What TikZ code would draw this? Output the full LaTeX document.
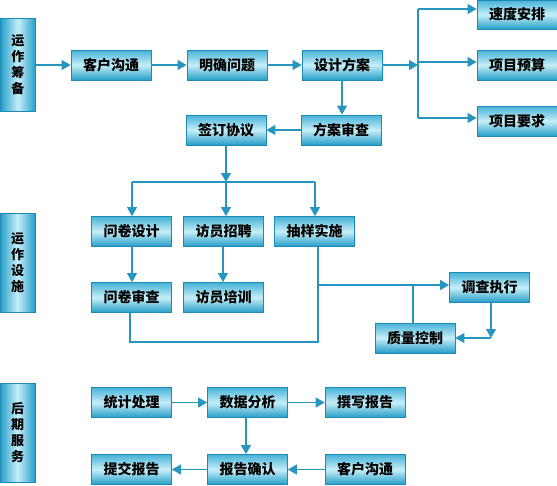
\documentclass[tikz,border=0pt]{standalone}
\usepackage{fontspec}
\usepackage{xcolor}
\usetikzlibrary{calc,arrows.meta}
\newfontfamily\cjk{Noto Sans CJK SC}
\definecolor{flowLine}{RGB}{38,150,190}
\definecolor{boxEdge}{RGB}{28,138,180}
\definecolor{boxDark}{RGB}{36,158,200}
\definecolor{boxTop}{RGB}{70,178,215}
\definecolor{boxLight}{RGB}{198,238,248}
\tikzset{
  stepbox/.style={draw=boxEdge,line width=0.8pt,top color=boxTop,bottom color=boxDark,middle color=boxLight,
    minimum width=80pt,minimum height=30pt,inner sep=0pt,font=\cjk\bfseries\fontsize{14}{16}\selectfont},
  stagebox/.style={draw=boxEdge,line width=0.8pt,left color=boxDark,right color=boxDark,middle color=boxLight,
    minimum width=35pt,inner sep=0pt,align=center,font=\cjk\bfseries\fontsize{13}{16}\selectfont},
  link/.style={draw=flowLine,line width=1.1pt},
  arr/.style={link,-{Triangle[length=9pt,width=10pt]}}
}
\begin{document}
\begin{tikzpicture}[x=1pt,y=-1pt]
\useasboundingbox (0,0) rectangle (557,485);
% stages
\node[stagebox,minimum height=93pt] (prep) at (18,64.5) {运\\作\\筹\\备};
\node[stagebox,minimum height=99pt] (impl) at (17.5,262.5) {运\\作\\设\\施};
\node[stagebox,minimum height=99pt] (post) at (17.5,432.5) {后\\期\\服\\务};
% preparation
\node[stepbox] (talkA) at (111,65) {客户沟通};
\node[stepbox] (issue) at (227,65) {明确问题};
\node[stepbox] (plan) at (342,65) {设计方案};
\node[stepbox,minimum height=29pt] (speed) at (517,14.5) {速度安排};
\node[stepbox] (budget) at (517,65) {项目预算};
\node[stepbox] (needs) at (517,121) {项目要求};
\node[stepbox] (review) at (341,130) {方案审查};
\node[stepbox] (sign) at (226,130) {签订协议};
% implementation
\node[stepbox] (qdesign) at (131.5,231.5) {问卷设计};
\node[stepbox] (hire) at (223.5,231.5) {访员招聘};
\node[stepbox] (sample) at (314.5,231.5) {抽样实施};
\node[stepbox] (qcheck) at (131.5,297.5) {问卷审查};
\node[stepbox] (train) at (223.5,297.5) {访员培训};
\node[stepbox] (survey) at (489.5,287.5) {调查执行};
\node[stepbox] (quality) at (415,338) {质量控制};
% after service
\node[stepbox] (stats) at (131.5,402.5) {统计处理};
\node[stepbox] (analyse) at (247.5,402.5) {数据分析};
\node[stepbox] (write) at (365,402.5) {撰写报告};
\node[stepbox] (submit) at (131.5,469.5) {提交报告};
\node[stepbox] (confirm) at (247.5,469.5) {报告确认};
\node[stepbox] (talkB) at (365,469.5) {客户沟通};
% connectors, first stage
\draw[arr] (prep.east |- talkA) -- (talkA);
\draw[arr] (talkA) -- (issue);
\draw[arr] (issue) -- (plan);
\coordinate (busT) at (418,9);
\coordinate (busM) at (418,62);
\coordinate (busB) at (418,118);
\draw[arr] (plan.east) -- (plan.east -| busT);
\draw[link] (busT) -- (busB);
\draw[arr] (busT) -- (busT -| speed.west);
\draw[arr] (busM) -- (busM -| budget.west);
\draw[arr] (busB) -- (busB -| needs.west);
\draw[arr] (plan.south) -- (plan.south |- review.north);
\draw[arr] (review) -- (sign);
% second stage
\coordinate (splitL) at (132,182);
\coordinate (splitM) at (226,182);
\coordinate (splitR) at (315,182);
\draw[arr] (sign.south) -- (splitM);
\draw[link] (splitL) -- (splitR);
\draw[arr] (splitL) -- (splitL |- qdesign.north);
\draw[arr] (splitM) -- (splitM |- hire.north);
\draw[arr] (splitR) -- (splitR |- sample.north);
\draw[arr] (qdesign.south -| splitL) -- (qcheck.north -| splitL);
\draw[arr] ($(hire.south)+(-0.5,0)$) -- ($(train.north)+(-0.5,0)$);
\coordinate (join) at (318,342);
\draw[link] ($(qcheck.south)+(-1.5,0)$) |- (join) -- (join |- sample.south);
\draw[link] ($(train.south)+(-2.5,0)$) -- ($(train.south)+(-2.5,0)$ |- join);
\coordinate (feed) at (318,285);
\draw[arr] (feed) -- (feed -| survey.west);
\draw[link] (quality.north -| 413,0) -- (413,285);
\coordinate (turn) at (491,338);
\draw[arr] (survey.south -| turn) -- (turn);
\draw[arr] (turn) -- (quality.east);
% third stage
\draw[arr] (stats) -- (analyse);
\draw[arr] (analyse) -- (write);
\draw[arr] (analyse.south -| 246,0) -- (confirm.north -| 246,0);
\draw[arr] (confirm) -- (submit);
\draw[arr] (talkB) -- (confirm);
\end{tikzpicture}
\end{document}
